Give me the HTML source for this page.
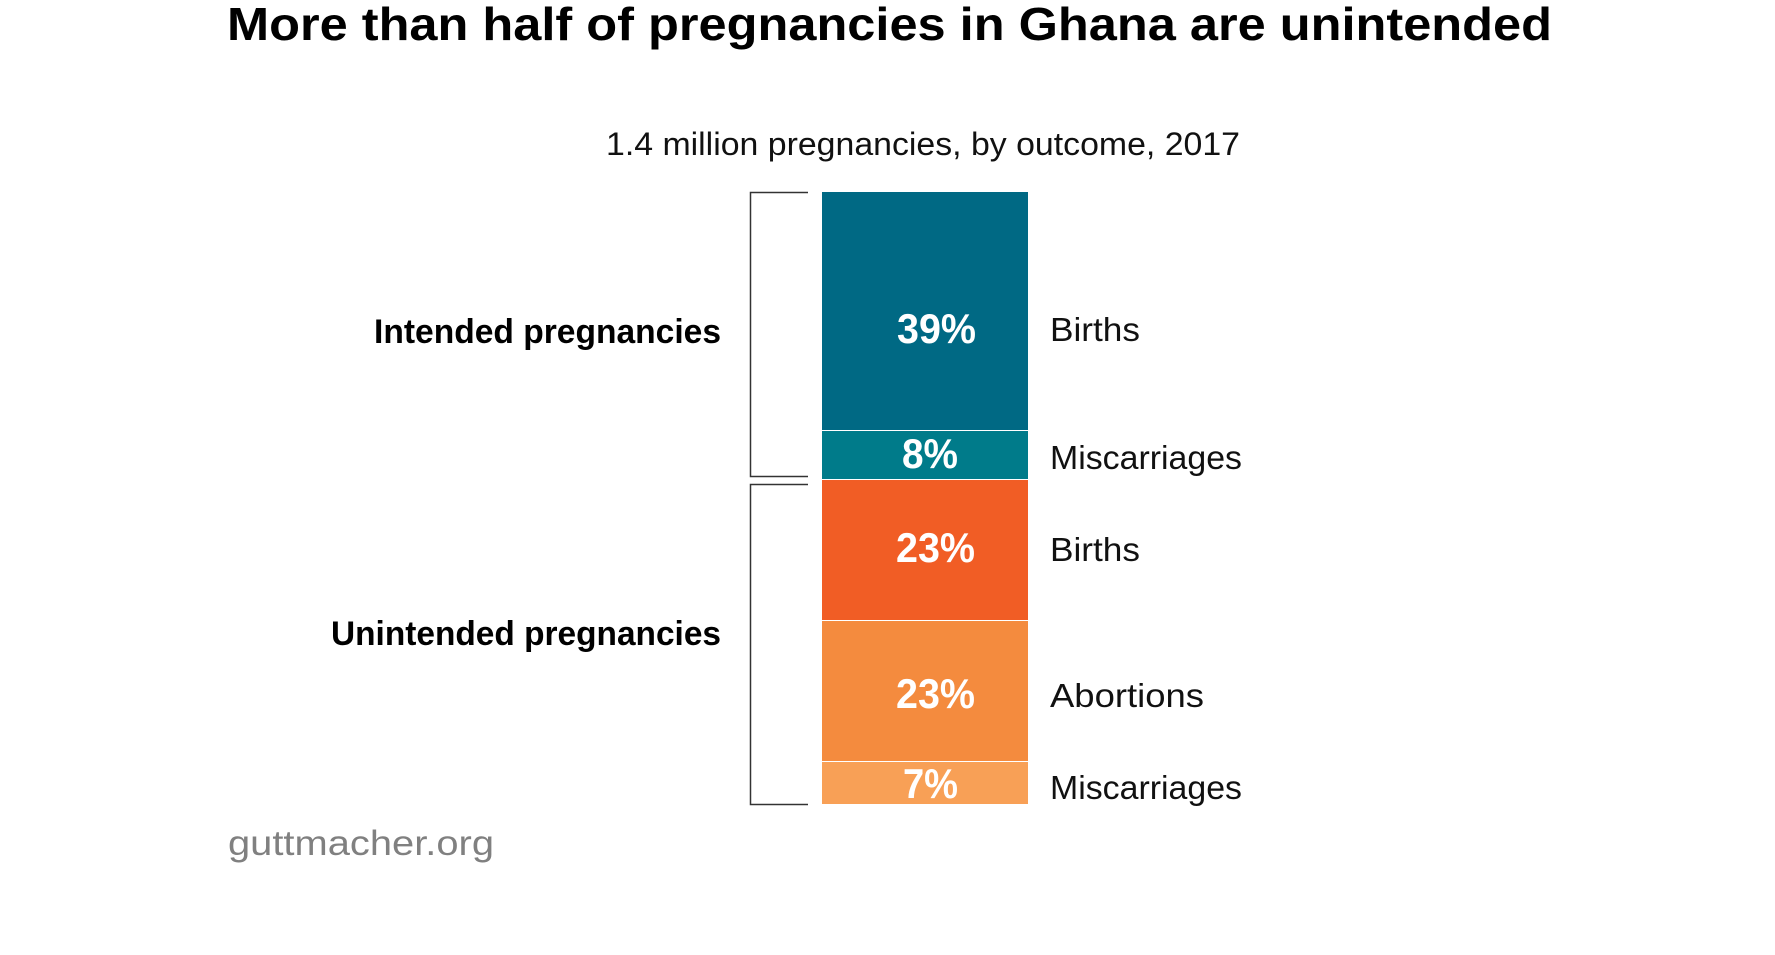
<!DOCTYPE html>
<html><head><meta charset="utf-8"><style>html,body{margin:0;padding:0;background:#fff}svg{display:block}</style></head>
<body>
<svg width="1775" height="955" viewBox="0 0 1775 955" xmlns="http://www.w3.org/2000/svg" font-family="Liberation Sans, sans-serif">
<text x="227" y="40" font-size="46" font-weight="bold" fill="#000" textLength="1325" lengthAdjust="spacingAndGlyphs">More than half of pregnancies in Ghana are unintended</text>
<text x="606" y="155" font-size="32" fill="#111" textLength="634" lengthAdjust="spacingAndGlyphs">1.4 million pregnancies, by outcome, 2017</text>
<text x="721" y="343" font-size="34" font-weight="bold" text-anchor="end" fill="#000" textLength="347" lengthAdjust="spacingAndGlyphs">Intended pregnancies</text>
<text x="721" y="645" font-size="34" font-weight="bold" text-anchor="end" fill="#000" textLength="390" lengthAdjust="spacingAndGlyphs">Unintended pregnancies</text>
<text x="228" y="855" font-size="35" fill="#808080" textLength="266" lengthAdjust="spacingAndGlyphs">guttmacher.org</text>
<path d="M808 192.5H750.5V476.5H808M808 484.5H750.5V804.5H808" fill="none" stroke="#333" stroke-width="1.5"/>
<rect x="822" y="192" width="206" height="238" fill="#006984"/>
<rect x="822" y="431" width="206" height="48" fill="#007b8a"/>
<rect x="822" y="480" width="206" height="140" fill="#f15d25"/>
<rect x="822" y="621" width="206" height="140" fill="#f48b3e"/>
<rect x="822" y="762" width="206" height="42" fill="#f8a056"/>
<g fill="#fff" font-weight="bold" font-size="42">
<text x="897" y="343" textLength="79" lengthAdjust="spacingAndGlyphs">39%</text>
<text x="902" y="468" textLength="56" lengthAdjust="spacingAndGlyphs">8%</text>
<text x="896" y="562" textLength="79" lengthAdjust="spacingAndGlyphs">23%</text>
<text x="896" y="708" textLength="79" lengthAdjust="spacingAndGlyphs">23%</text>
<text x="903" y="798" textLength="55" lengthAdjust="spacingAndGlyphs">7%</text>
</g>
<g fill="#111" font-size="33">
<text x="1050" y="341" textLength="90" lengthAdjust="spacingAndGlyphs">Births</text>
<text x="1050" y="469" textLength="192" lengthAdjust="spacingAndGlyphs">Miscarriages</text>
<text x="1050" y="561" textLength="90" lengthAdjust="spacingAndGlyphs">Births</text>
<text x="1050" y="707" textLength="154" lengthAdjust="spacingAndGlyphs">Abortions</text>
<text x="1050" y="799" textLength="192" lengthAdjust="spacingAndGlyphs">Miscarriages</text>
</g>
</svg>
</body></html>
